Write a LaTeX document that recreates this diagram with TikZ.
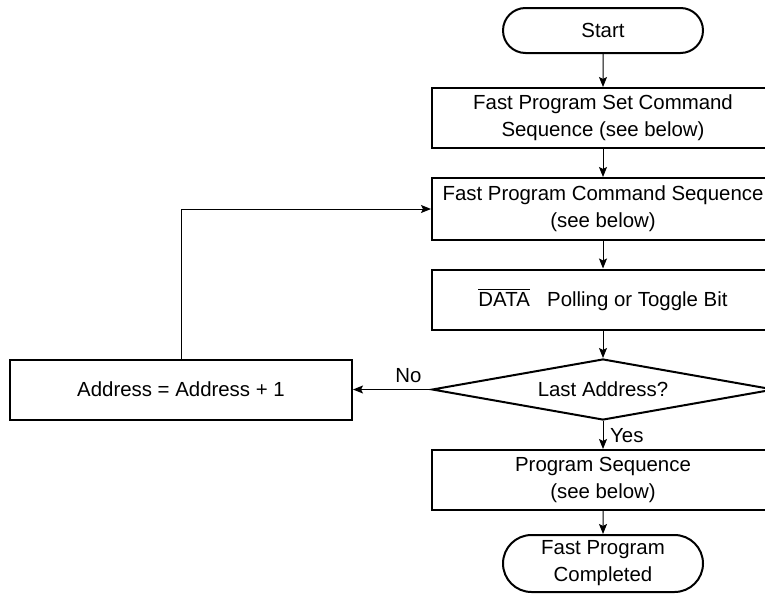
\documentclass[tikz,border=0pt]{standalone}
\usepackage{fontspec}
\setmainfont{Liberation Sans}
\usetikzlibrary{shapes.misc,shapes.geometric,arrows.meta}
\begin{document}
\begin{tikzpicture}
        [x=0.5pt, y=-0.5pt,
        font=\fontsize{10.2}{13.5}\selectfont,
        box/.style={draw, line width=1pt, minimum width=171pt, minimum height=30pt, align=center, inner sep=1pt},
        term/.style={draw, line width=1pt, rounded rectangle, minimum width=102pt, minimum height=22.5pt, align=center, inner sep=1pt},
        decide/.style={draw, line width=1pt, diamond, minimum width=171pt, minimum height=30.5pt, inner sep=0pt, aspect=5.6},
        flow/.style={line width=0.5pt, -{Stealth[length=5pt, width=4pt, inset=1pt]}}]
        \useasboundingbox (0,0) rectangle (765,594);
        \clip (0,0) rectangle (765,594);
        % main column
        \node[term] (start) at (603,30.5) {Start};
        \node[box] (set) at (603,118) {Fast Program Set Command\\Sequence (see below)};
        \node[box, minimum height=31pt] (cmd) at (603,209) {Fast Program Command Sequence\\(see below)};
        \node[box] (poll) at (603,299.5) {$\overline{\mbox{DATA}}$\hspace{0.85em}Polling or Toggle Bit};
        \node[decide] (last) at (603,389.5) {Last Address?};
        \node[box] (prog) at (603,480) {Program Sequence\\(see below)};
        \node[term, minimum height=28.5pt] (done) at (603,563.5) {Fast Program\\Completed};
        % loop back
        \node[box] (addr) at (181,389.5) {Address = Address + 1};
        \draw[flow] (start) -- (set);
        \draw[flow] (set) -- (cmd);
        \draw[flow] (cmd) -- (poll);
        \draw[flow] (poll) -- (last);
        \draw[flow] (last) -- node[right, pos=0.53]{Yes} (prog);
        \draw[flow] (prog) -- (done);
        \draw[flow] (last) -- node[above, pos=0.29]{No} (addr);
        \draw[flow] (addr) |- (cmd);
\end{tikzpicture}
\end{document}
